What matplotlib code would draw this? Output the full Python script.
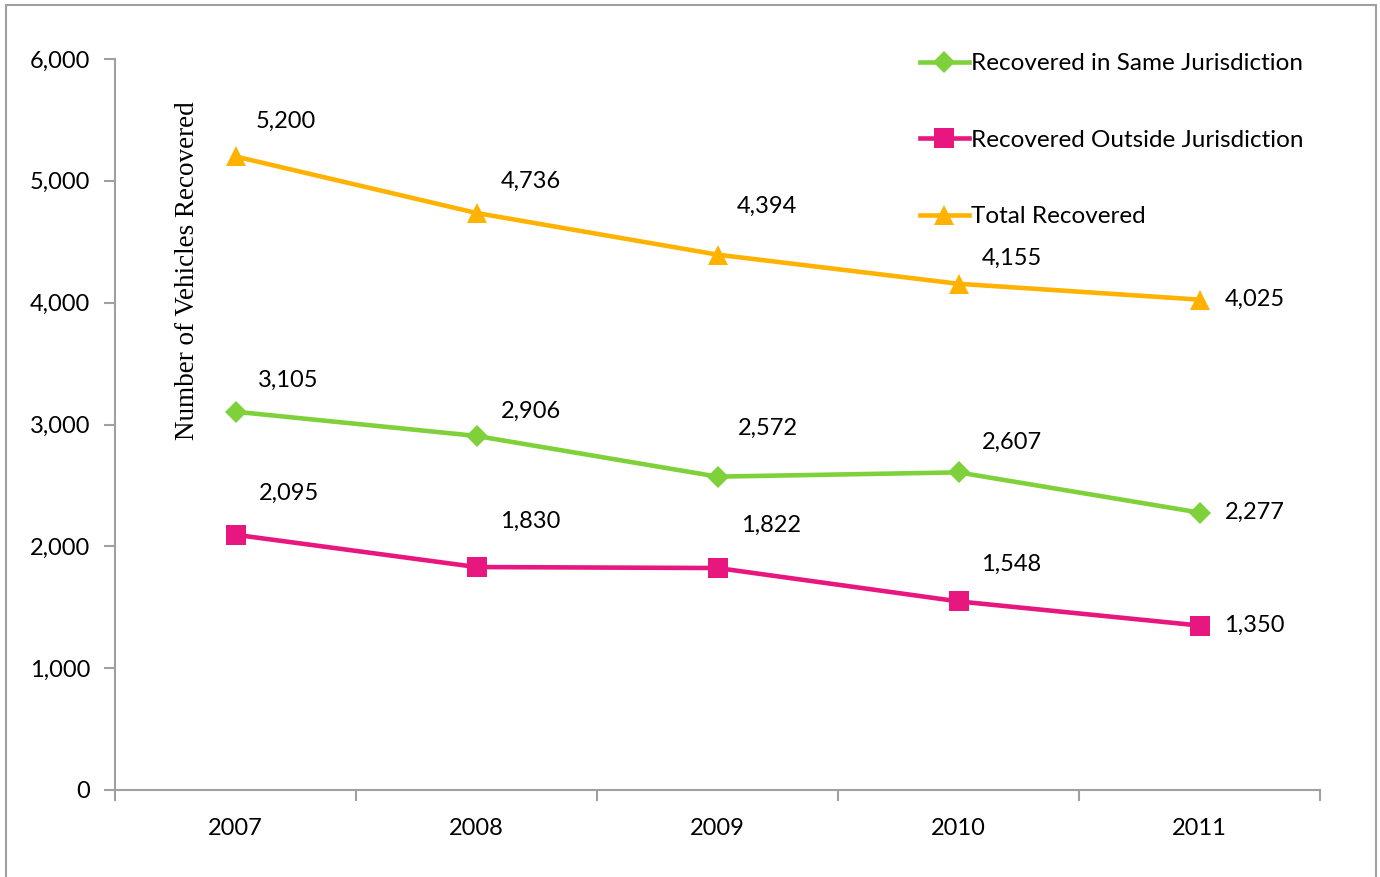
import matplotlib
matplotlib.use("Agg")
import matplotlib.pyplot as plt
from matplotlib.patches import Rectangle

# ======================
# DATA
# ======================
years = ["2007", "2008", "2009", "2010", "2011"]
same_juris = [3105, 2906, 2572, 2607, 2277]
outside_juris = [2095, 1830, 1822, 1548, 1350]
total_recovered = [5200, 4736, 4394, 4155, 4025]
y_ticks = [0, 1000, 2000, 3000, 4000, 5000, 6000]

GREEN = "#7FD13B"
PINK = "#E8177F"
ORANGE = "#FFB300"
GRAY = "#A0A0A0"
FS = 17

plt.rcParams["font.family"] = ["Lato", "DejaVu Sans"]

fig = plt.figure(figsize=(13.8, 8.77), dpi=100)
ax = fig.add_axes([115 / 1380, 1 - 790 / 877, 1205 / 1380, 731 / 877])

# outer chart frame
fig.patches.append(Rectangle((6 / 1380, -0.01), 1370 / 1380, 1 - 5 / 877 + 0.01,
                             transform=fig.transFigure, fill=False,
                             edgecolor=GRAY, linewidth=1.5))

x = list(range(len(years)))
series = [
    (same_juris, GREEN, "D", 11.5, "Recovered in Same Jurisdiction"),
    (outside_juris, PINK, "s", 14, "Recovered Outside Jurisdiction"),
    (total_recovered, ORANGE, "^", 15, "Total Recovered"),
]
handles = []
for vals, col, mk, ms, lab in series:
    h, = ax.plot(x, vals, color=col, lw=3.3, marker=mk, markersize=ms,
                 markeredgewidth=0, label=lab, solid_joinstyle="round")
    handles.append(h)

# data labels (pixel offsets roughly as in the picture)
up_offsets = {
    "same": [(53, 31), (54, 25), (50, 48), (53, 30)],
    "out": [(53, 41), (54, 46), (54, 43), (53, 37)],
    "tot": [(50, 35), (54, 32), (49, 48), (53, 25)],
}
for vals, key in [(same_juris, "same"), (outside_juris, "out"), (total_recovered, "tot")]:
    for i, v in enumerate(vals):
        if i < len(vals) - 1:
            dx, dy = up_offsets[key][i]
        else:
            dx, dy = 55, 0
        ax.annotate(f"{v:,}", (i, v), xytext=(dx, dy), textcoords="offset pixels",
                    ha="center", va="center", fontsize=FS, color="black")

ax.set_xlim(-0.5, 4.5)
ax.set_ylim(0, 6000)
ax.set_yticks(y_ticks)
ax.set_yticklabels([f"{t:,}" for t in y_ticks])
ax.set_xticks(x)
ax.set_xticklabels(years)
ax.set_xticks([i - 0.5 for i in range(len(years) + 1)], minor=True)
ax.tick_params(axis="x", which="major", length=0, pad=20, labelsize=FS)
ax.tick_params(axis="x", which="minor", length=8, width=1.5, color=GRAY, direction="out")
ax.tick_params(axis="y", length=8, width=1.5, color=GRAY, pad=10, labelsize=FS)

for s in ["top", "right"]:
    ax.spines[s].set_visible(False)
for s in ["left", "bottom"]:
    ax.spines[s].set_color(GRAY)
    ax.spines[s].set_linewidth(1.5)

fig.text(187 / 1380, 1 - 271 / 877, "Number of Vehicles Recovered", rotation=90,
         ha="center", va="center", fontsize=19.5, family=["Liberation Serif"])

ax.legend(handles=handles, loc="upper left", bbox_to_anchor=(908 / 1380, 1 - 41 / 877),
          bbox_transform=fig.transFigure, frameon=False, fontsize=17.5,
          handlelength=2.0, handletextpad=0.1, labelspacing=2.28, borderpad=0)

fig.savefig("out.png", dpi=100)
